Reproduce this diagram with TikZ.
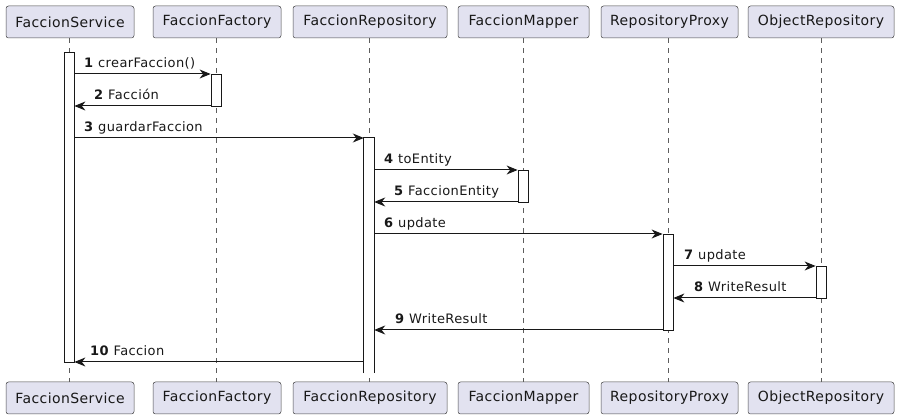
\documentclass[tikz,border=0pt]{standalone}
\usepackage{fontspec}
\setmainfont{DejaVu Sans}[LetterSpace=3]
\usetikzlibrary{arrows.meta}
\definecolor{partfill}{HTML}{E2E2F0}
\definecolor{ink}{HTML}{181818}
\tikzset{
  part/.style={draw=ink!80, line width=0.5pt, fill=partfill, rounded corners=2.5pt,
    minimum height=32pt, inner sep=0pt, font=\fontsize{14}{16}\selectfont, text=ink},
  actbar/.style={draw=ink, line width=0.8pt, fill=white, minimum width=10pt, inner sep=0pt},
  openbar/.style={fill=white, minimum width=10pt, inner sep=0pt},
  lifeline/.style={draw=ink!70, line width=0.6pt, dash pattern=on 5pt off 5pt},
  msg/.style={draw=ink, line width=1pt, -{Stealth[length=11pt,width=9pt,inset=3.5pt]}},
  lbl/.style={anchor=base west, inner sep=0pt, font=\fontsize{13}{15}\selectfont, text=ink},
}
\begin{document}
\begin{tikzpicture}[x=1pt,y=-1pt]
\useasboundingbox (0,0) rectangle (900,419);
% participants top
\node[part, minimum width=128pt] (s1) at (70,22) {FaccionService};
\node[part, minimum width=128pt] (f1) at (217,22) {FaccionFactory};
\node[part, minimum width=154pt] (r1) at (370,22) {FaccionRepository};
\node[part, minimum width=131pt] (m1) at (523.5,22) {FaccionMapper};
\node[part, minimum width=137pt] (p1) at (669.5,22) {RepositoryProxy};
\node[part, minimum width=146pt] (o1) at (821,22) {ObjectRepository};
% participants bottom
\node[part, minimum width=128pt] (s2) at (70,398) {FaccionService};
\node[part, minimum width=128pt] (f2) at (217,398) {FaccionFactory};
\node[part, minimum width=154pt] (r2) at (370,398) {FaccionRepository};
\node[part, minimum width=131pt] (m2) at (523.5,398) {FaccionMapper};
\node[part, minimum width=137pt] (p2) at (669.5,398) {RepositoryProxy};
\node[part, minimum width=146pt] (o2) at (821,398) {ObjectRepository};
% lifelines
\coordinate (ls) at (69,0);
\coordinate (lf) at (216,0);
\coordinate (lr) at (369,0);
\coordinate (lm) at (523,0);
\coordinate (lp) at (668,0);
\coordinate (lo) at (821,0);
\draw[lifeline] (ls |- s1.south) -- (ls |- s2.north);
\draw[lifeline] (lf |- f1.south) -- (lf |- f2.north);
\draw[lifeline] (lr |- r1.south) -- (lr |- r2.north);
\draw[lifeline] (lm |- m1.south) -- (lm |- m2.north);
\draw[lifeline] (lp |- p1.south) -- (lp |- p2.north);
\draw[lifeline] (lo |- o1.south) -- (lo |- o2.north);
% activations
\node[actbar, minimum height=310pt] (as) at (69,207) {};
\node[actbar, minimum height=32pt] (af) at (216,90) {};
\node[openbar, minimum height=235pt] (ar) at (369,255.5) {};
\draw[ink, line width=0.8pt] (ar.south west) -- (ar.north west) -- (ar.north east) -- (ar.south east);
\node[actbar, minimum height=32pt] (am) at (523,186) {};
\node[actbar, minimum height=96pt] (ap) at (668,282) {};
\node[actbar, minimum height=32pt] (ao) at (821,282) {};
% messages
\coordinate (y1) at (0,74);
\coordinate (y2) at (0,106);
\coordinate (y3) at (0,138);
\coordinate (y4) at (0,170);
\coordinate (y5) at (0,202);
\coordinate (y6) at (0,234);
\coordinate (y7) at (0,266);
\coordinate (y8) at (0,298);
\coordinate (y9) at (0,330);
\coordinate (y10) at (0,362);
\draw[msg] (as.east |- y1) -- (af.west |- y1);
\draw[msg] (af.west |- y2) -- (as.east |- y2);
\draw[msg] (as.east |- y3) -- (ar.west |- y3);
\draw[msg] (ar.east |- y4) -- (am.west |- y4);
\draw[msg] (am.west |- y5) -- (ar.east |- y5);
\draw[msg] (ar.east |- y6) -- (ap.west |- y6);
\draw[msg] (ap.east |- y7) -- (ao.west |- y7);
\draw[msg] (ao.west |- y8) -- (ap.east |- y8);
\draw[msg] (ap.west |- y9) -- (ar.east |- y9);
\draw[msg] (ar.west |- y10) -- (as.east |- y10);
% labels
\node[lbl] (t1) at (84,68) {\textbf{1} crearFaccion()};
\node[lbl] (t2) at (94,100) {\textbf{2} Facción};
\node[lbl] (t3) at (84,132) {\textbf{3} guardarFaccion};
\node[lbl] (t4) at (384,164) {\textbf{4} toEntity};
\node[lbl] (t5) at (394,196) {\textbf{5} FaccionEntity};
\node[lbl] (t6) at (384,228) {\textbf{6} update};
\node[lbl] (t7) at (684,260) {\textbf{7} update};
\node[lbl] (t8) at (694,292) {\textbf{8} WriteResult};
\node[lbl] (t9) at (395,324) {\textbf{9} WriteResult};
\node[lbl] (t10) at (90,356) {\textbf{10} Faccion};
\end{tikzpicture}
\end{document}
